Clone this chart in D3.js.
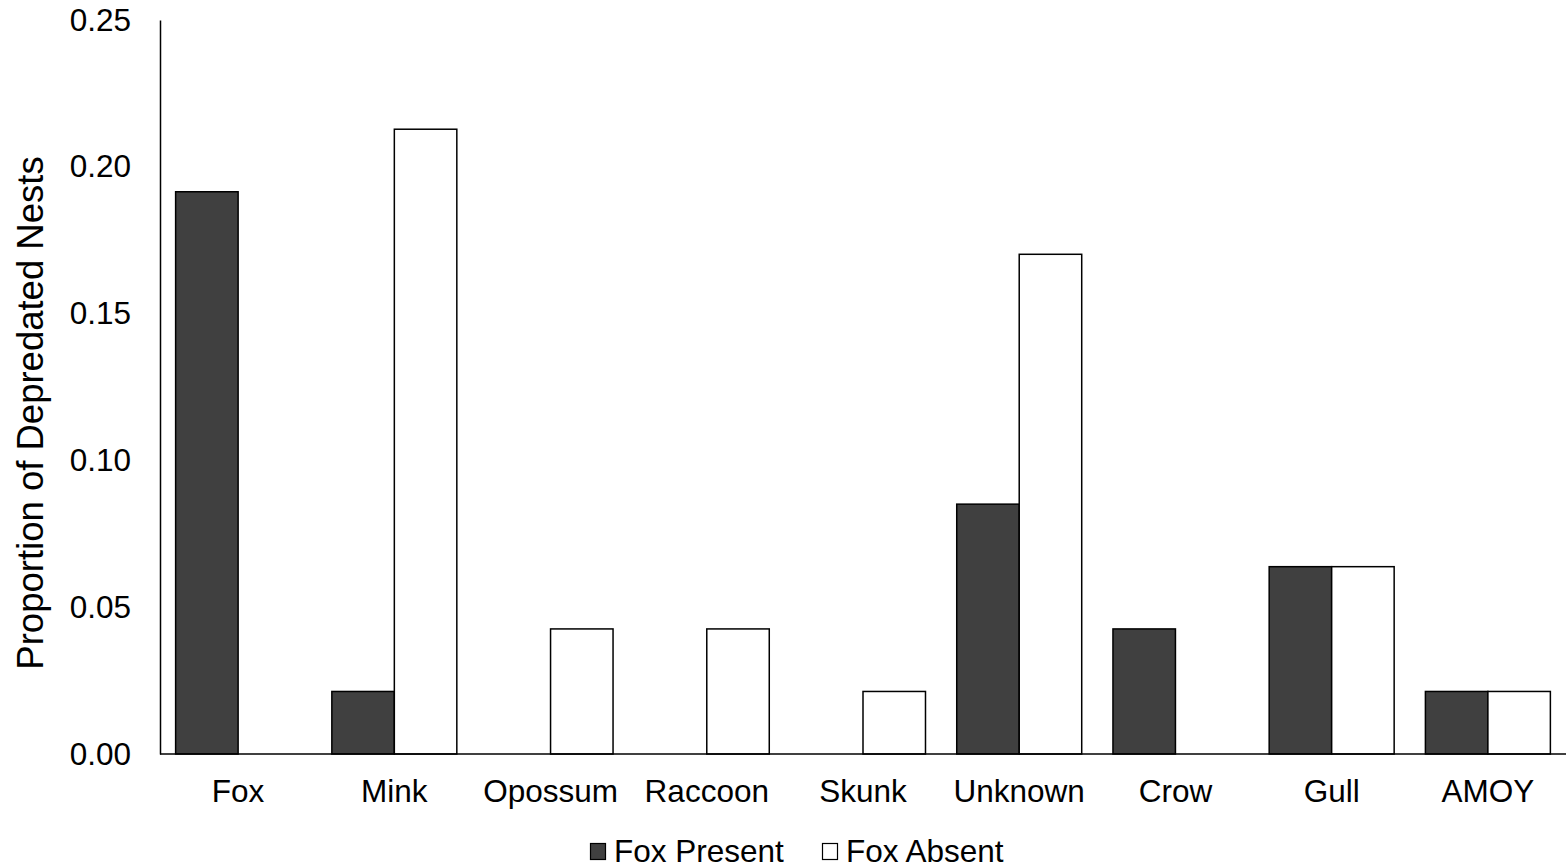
<!DOCTYPE html>
<html><head><meta charset="utf-8">
<script src="https://cdn.jsdelivr.net/npm/d3@7"></script>
<style>body{margin:0;background:#fff;} svg{display:block;font-family:"Liberation Sans",Arial,sans-serif;}</style>
</head><body><svg id="c" width="1566" height="868"></svg>
<script>
const categories = ["Fox","Mink","Opossum","Raccoon","Skunk","Unknown","Crow","Gull","AMOY"];
const foxPresent = [0.1915,0.0213,0,0,0,0.0851,0.0426,0.0638,0.0213];
const foxAbsent  = [0,0.2128,0.0426,0.0426,0.0213,0.1702,0,0.0638,0.0213];
const yTicks = [0,0.05,0.10,0.15,0.20,0.25];
const seriesNames = ["Fox Present","Fox Absent"];
const seriesColors = ["#404040","#ffffff"];

const svg = d3.select("#c");
const L=160, R=1566, T=20, B=754;
const FS = 31.5;
const x = d3.scaleBand().domain(categories).range([L,R]).paddingInner(0.2).paddingOuter(0.1);
const x1 = d3.scaleBand().domain(seriesNames).range([0,x.bandwidth()]);
const y = d3.scaleLinear().domain([0,0.25]).range([B,T]);

const data = categories.map((c,i)=>({c, vals:[foxPresent[i],foxAbsent[i]]}));
const g = svg.append("g");
data.forEach(d=>{
  d.vals.forEach((v,k)=>{
    if(v<=0) return;
    g.append("rect").attr("x",x(d.c)+x1(seriesNames[k])).attr("y",y(v))
     .attr("width",x1.bandwidth()).attr("height",y(0)-y(v))
     .attr("fill",seriesColors[k]).attr("stroke","#000").attr("stroke-width",1.5);
  });
});

// y axis
const ya = svg.append("g").attr("transform",`translate(${L},0)`)
  .call(d3.axisLeft(y).tickValues(yTicks).tickFormat(d3.format(".2f")).tickSize(0).tickPadding(29));
ya.select(".domain").attr("stroke","#000").attr("stroke-width",1.5);
ya.selectAll("text").attr("font-size",FS).attr("fill","#000").attr("font-family","Liberation Sans, Arial, sans-serif");

// x axis
const xa = svg.append("g").attr("transform",`translate(0,${B})`)
  .call(d3.axisBottom(x).tickSize(0).tickPadding(25.5));
xa.select(".domain").attr("d",`M${L},0H${R}`).attr("stroke","#000").attr("stroke-width",1.5);
xa.selectAll("text").attr("font-size",FS).attr("fill","#000").attr("font-family","Liberation Sans, Arial, sans-serif");

// y title
svg.append("text").attr("transform",`translate(43,413) rotate(-90)`)
  .attr("text-anchor","middle").attr("font-size",36.5).attr("fill","#000")
  .text("Proportion of Depredated Nests");

// legend
const leg = svg.append("g");
const lx = [590, 822];
seriesNames.forEach((n,k)=>{
  leg.append("rect").attr("x",lx[k]+0.5).attr("y",843.5).attr("width",15).attr("height",16)
    .attr("fill",seriesColors[k]).attr("stroke","#000").attr("stroke-width",1.2);
  leg.append("text").attr("x",lx[k]+24).attr("y",862).attr("font-size",FS).attr("fill","#000").text(n);
});
</script></body></html>
